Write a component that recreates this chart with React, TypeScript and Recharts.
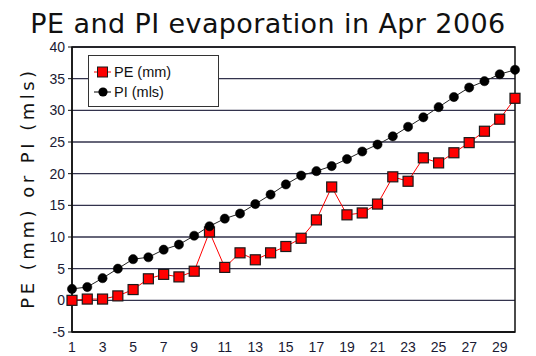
import React from "react";
import {
  ComposedChart,
  Line,
  XAxis,
  YAxis,
  CartesianGrid,
  ReferenceArea,
} from "recharts";

const days = [1, 2, 3, 4, 5, 6, 7, 8, 9, 10, 11, 12, 13, 14, 15, 16, 17, 18, 19, 20, 21, 22, 23, 24, 25, 26, 27, 28, 29, 30];
const peMm = [0, 0.2, 0.2, 0.7, 1.7, 3.4, 4.1, 3.7, 4.6, 10.8, 5.2, 7.5, 6.4, 7.5, 8.5, 9.8, 12.7, 17.9, 13.5, 13.8, 15.2, 19.5, 18.8, 22.5, 21.7, 23.3, 24.9, 26.7, 28.6, 31.9];
const piMls = [1.8, 2.1, 3.5, 5.0, 6.5, 6.8, 8.0, 8.8, 10.2, 11.7, 12.9, 13.7, 15.2, 16.7, 18.3, 19.7, 20.4, 21.2, 22.3, 23.5, 24.6, 25.9, 27.4, 28.9, 30.5, 32.1, 33.6, 34.6, 35.7, 36.4];
const yTicks = [-5, 0, 5, 10, 15, 20, 25, 30, 35, 40];
const seriesNames = ["PE (mm)", "PI (mls)"];

const data = days.map((d, i) => ({ day: d, pe: peMm[i], pi: piMls[i] }));

const SquareDot = (props: any) => {
  const { cx, cy, index } = props;
  if (cx == null || cy == null) return <g key={"s" + index} />;
  return (
    <rect key={"s" + index} x={cx - 5} y={cy - 5} width={10} height={10} fill="#ff0000" stroke="#1a1a1a" strokeWidth={1.2} />
  );
};

const CircleDot = (props: any) => {
  const { cx, cy, index } = props;
  if (cx == null || cy == null) return <g key={"c" + index} />;
  return <circle key={"c" + index} cx={cx} cy={cy} r={4.6} fill="#000" stroke="#000" strokeWidth={0.5} />;
};

const LegendBox = () => (
  <div
    style={{
      position: "absolute",
      left: 88,
      top: 55,
      width: 129,
      height: 50,
      border: "1px solid #333",
      background: "#fff",
    }}
  >
    <svg width={129} height={50} style={{ position: "absolute", left: 0, top: 0 }}>
      <line x1={5} y1={16} x2={22} y2={16} stroke="#ff0000" strokeWidth={1} />
      <rect x={8.5} y={11} width={10} height={10} fill="#ff0000" stroke="#1a1a1a" strokeWidth={1} />
      <text x={25} y={21} fontSize={14.5} fill="#111" fontFamily="'Liberation Sans', Arial, sans-serif">{seriesNames[0]}</text>
      <line x1={5} y1={36} x2={22} y2={36} stroke="#000" strokeWidth={1} />
      <circle cx={14} cy={36} r={4.6} fill="#000" />
      <text x={25} y={41} fontSize={14.5} fill="#111" fontFamily="'Liberation Sans', Arial, sans-serif">{seriesNames[1]}</text>
    </svg>
  </div>
);

const YLabel = () => (
  <text
    x={27}
    y={188}
    transform="rotate(-90 27 188)"
    textAnchor="middle"
    dominantBaseline="central"
    fontFamily="'DejaVu Sans', Verdana, sans-serif"
    fontSize={18}
    letterSpacing={3.5}
    fill="#111"
  >
    PE (mm) or PI (mls)
  </text>
);

export default function App() {
  return (
    <div style={{ position: "absolute", left: 0, top: 0, width: 536, height: 356, background: "#fff" }}>
      <div style={{ position: "absolute", left: 0, top: 0 }}>
        <ComposedChart
          width={536}
          height={356}
          data={data}
          margin={{ top: 47, right: 21, bottom: 0, left: 0 }}
        >
          <CartesianGrid horizontal vertical={false} stroke="#33334d" strokeWidth={1.4} />
          <ReferenceArea y1={-5} y2={40} fill="none" stroke="#111" strokeWidth={1.5} ifOverflow="visible" />
          <XAxis
            dataKey="day"
            interval={1}
            height={24}
            tickLine={false}
            axisLine={{ stroke: "#111", strokeWidth: 1.5 }}
            tick={{ fill: "#1a1a33", fontSize: 14, fontFamily: "'Liberation Sans', Arial, sans-serif" }}
            tickMargin={4}
          />
          <YAxis
            width={72}
            domain={[-5, 40]}
            ticks={yTicks}
            interval={0}
            tickSize={4}
            tickLine={{ stroke: "#111" }}
            axisLine={{ stroke: "#111", strokeWidth: 1.5 }}
            tick={{ fill: "#1a1a33", fontSize: 14, fontFamily: "'Liberation Sans', Arial, sans-serif" }}
            tickMargin={3}
            label={<YLabel />}
          />
          <Line
            type="linear"
            dataKey="pe"
            name={seriesNames[0]}
            stroke="#ff0000"
            strokeWidth={1}
            dot={SquareDot}
            activeDot={false}
            isAnimationActive={false}
          />
          <Line
            type="linear"
            dataKey="pi"
            name={seriesNames[1]}
            stroke="#222"
            strokeWidth={1}
            dot={CircleDot}
            activeDot={false}
            isAnimationActive={false}
          />
        </ComposedChart>
      </div>
      <div
        style={{
          position: "absolute",
          left: 0,
          top: 8,
          width: 536,
          textAlign: "center",
          fontFamily: "'DejaVu Sans', Verdana, sans-serif",
          fontSize: 27,
          letterSpacing: 0.4,
          color: "#111",
          lineHeight: "32px",
          whiteSpace: "nowrap",
        }}
      >
        PE and PI evaporation in Apr 2006
      </div>
      <LegendBox />
    </div>
  );
}
